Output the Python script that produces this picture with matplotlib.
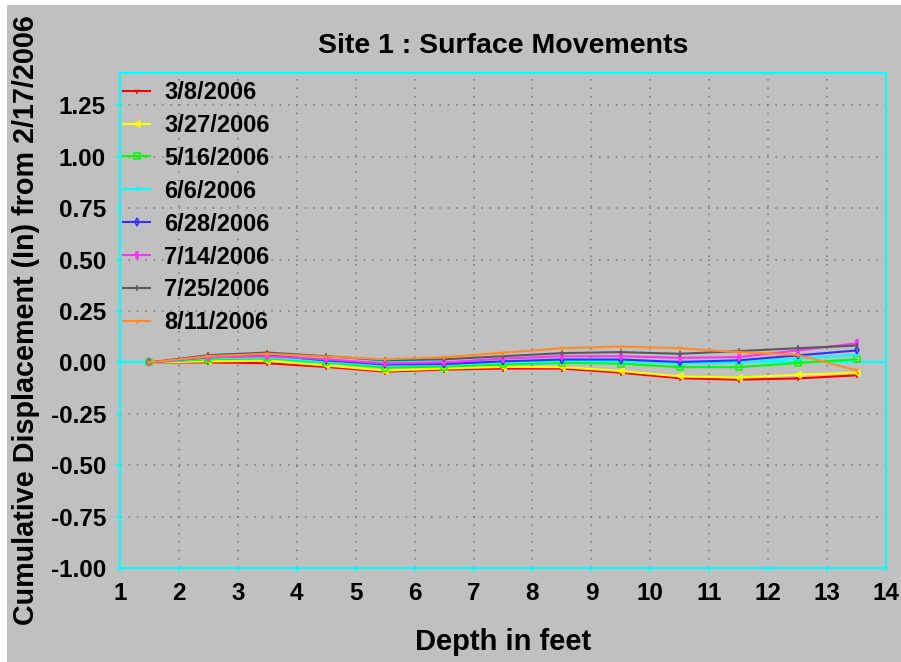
# Site 1 surface movements - cumulative displacement vs depth

import matplotlib
matplotlib.use('Agg')
import matplotlib.pyplot as plt
from matplotlib.patches import Rectangle
import numpy as np

plt.rcParams['font.family'] = ['Liberation Sans', 'DejaVu Sans']
plt.rcParams['font.weight'] = 'bold'

depth = [1.5, 2.5, 3.5, 4.5, 5.5, 6.5, 7.5, 8.5, 9.5, 10.5, 11.5, 12.5, 13.5]
dates = ['3/8/2006', '3/27/2006', '5/16/2006', '6/6/2006',
         '6/28/2006', '7/14/2006', '7/25/2006', '8/11/2006']
d_0308 = [0, 0.0, -0.004, -0.022, -0.045, -0.035, -0.03, -0.03, -0.05, -0.077, -0.084, -0.078, -0.063]
d_0327 = [0, 0.005, 0.008, -0.015, -0.04, -0.03, -0.022, -0.023, -0.042, -0.068, -0.074, -0.06, -0.05]
d_0516 = [0, 0.015, 0.02, 0.0, -0.025, -0.02, -0.01, -0.002, -0.006, -0.023, -0.023, -0.003, 0.015]
d_0606 = [0, 0.02, 0.025, 0.005, -0.015, -0.012, 0.0, 0.006, 0.006, -0.006, -0.002, 0.018, 0.037]
d_0628 = [0, 0.025, 0.035, 0.01, -0.01, -0.008, 0.005, 0.014, 0.014, 0.002, 0.01, 0.034, 0.058]
d_0714 = [0, 0.025, 0.03, 0.015, -0.005, 0.0, 0.018, 0.03, 0.03, 0.022, 0.026, 0.058, 0.093]
d_0725 = [0, 0.035, 0.048, 0.03, 0.01, 0.015, 0.03, 0.045, 0.05, 0.042, 0.055, 0.069, 0.082]
d_0811 = [0, 0.03, 0.042, 0.028, 0.015, 0.025, 0.047, 0.069, 0.077, 0.069, 0.05, 0.037, -0.039]
series = [d_0308, d_0327, d_0516, d_0606, d_0628, d_0714, d_0725, d_0811]

colors = ['#ff0000', '#ffff00', '#00ff00', '#00ffff', '#3030ff', '#ff30ff', '#5a5a5a', '#ff8c28']
markers = ['1', '<', 's', '2', 'd', r'$\parallel$', '|', '1']

bg = '#c0c0c0'
fig = plt.figure(figsize=(9.01, 6.62), dpi=100, facecolor='white')
fig.patches.append(Rectangle((7 / 901, 0), 1, 1 - 5 / 662, transform=fig.transFigure,
                             facecolor=bg, edgecolor='none', zorder=-10))
ax = fig.add_axes([120 / 901, 1 - 568 / 662, (886 - 120) / 901, (568 - 72.5) / 662])
ax.set_facecolor(bg)

for vals, lab, c, m in zip(series, dates, colors, markers):
    ax.plot(depth, vals, color=c, lw=1.5, marker=m, ms=4, mfc='none', mec=c, mew=1.1,
            label=lab, zorder=3)

ax.axhline(0, color='#00ffff', lw=1.5, zorder=2)

ax.set_xlim(1, 14)
ax.set_ylim(-1.0, 1.41)
ax.set_xticks(np.arange(1, 15))
ax.set_yticks(np.arange(-1.0, 1.26, 0.25))
ax.set_yticklabels(['%.2f' % v for v in np.arange(-1.0, 1.26, 0.25)])
ax.grid(True, color='#7a7a7a', linestyle=(0, (1, 4.5)), lw=1.1)
for s in ax.spines.values():
    s.set_color('#00ffff')
    s.set_linewidth(1.5)
ax.tick_params(colors='#00ffff', labelcolor='black', length=3, width=1.2,
               labelsize=17.5, pad=7)
for t in ax.get_xticklabels() + ax.get_yticklabels():
    t.set_fontweight('bold')

ax.set_title('Site 1 : Surface Movements', fontsize=20.5, fontweight='bold', pad=14)
ax.set_xlabel('Depth in feet', fontsize=21, fontweight='bold', labelpad=17)
ax.set_ylabel('Cumulative Displacement (In) from 2/17/2006', fontsize=20.7,
              fontweight='bold', labelpad=8)

leg = ax.legend(loc='upper left', bbox_to_anchor=(0.004, 0.983), frameon=False,
                handlelength=1.15, handletextpad=0.6, labelspacing=0.42,
                borderaxespad=0, borderpad=0, prop={'weight': 'bold', 'size': 17})

fig.savefig('out.png', dpi=100, facecolor=fig.get_facecolor())
